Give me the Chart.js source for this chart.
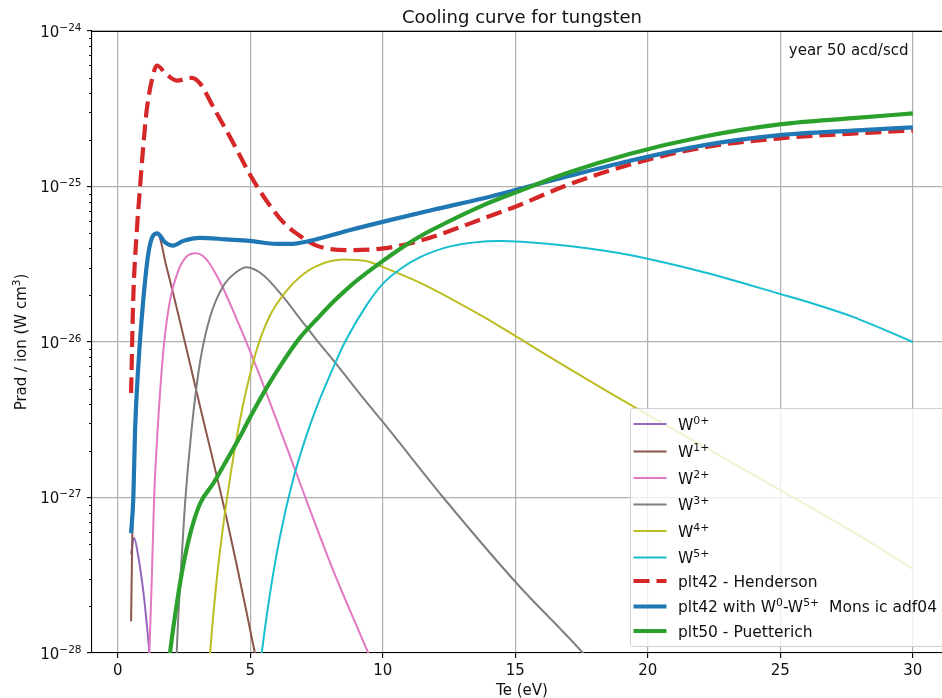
<!DOCTYPE html>
<html>
<head>
<meta charset="utf-8">
<title>Cooling curve for tungsten</title>
<script src="https://cdn.jsdelivr.net/npm/chart.js@4.4.1/dist/chart.umd.min.js"></script>
<style>
  html, body { margin: 0; padding: 0; background: #fff; overflow: hidden; }
  canvas { display: block; }
</style>
</head>
<body>
<canvas id="cooling" width="942" height="698"></canvas>
<script>
// Te (eV) and radiated power per ion (W cm^3) for each ion stage and the totals
const teW0 = [0.5, 0.61, 0.77, 0.96, 1.09, 1.19, 1.25];
const pW0 = [4.3e-28, 5.5e-28, 4.2e-28, 2.5e-28, 1.55e-28, 1.0e-28, 7e-29];

const teW1 = [0.5, 0.55, 0.65, 0.77, 0.96, 1.15, 1.32, 1.49, 1.84, 2.22, 2.6, 2.97, 3.35, 3.73, 4.1, 4.48, 4.86, 5.17, 5.3];
const pW1 = [1.6e-28, 6.3e-28, 2.5e-27, 6.8e-27, 1.82e-26, 3.6e-26, 4.7e-26, 5.0e-26, 3.02e-26, 1.66e-26, 8.9e-27, 4.79e-27, 2.57e-27, 1.38e-27, 7.41e-28, 3.72e-28, 1.82e-28, 1.0e-28, 7.9e-29];

const teW2 = [1.12, 1.19, 1.28, 1.37, 1.5, 1.72, 1.97, 2.28, 2.6, 2.95, 3.35, 3.85, 4.48, 5.11, 5.61, 6.05, 6.51, 6.88, 7.25, 8.13, 9.45, 9.6];
const pW2 = [4e-29, 1.0e-28, 2.95e-28, 1.0e-27, 2.69e-27, 8.9e-27, 1.86e-26, 2.88e-26, 3.55e-26, 3.72e-26, 3.39e-26, 2.45e-26, 1.41e-26, 7.76e-27, 4.68e-27, 2.95e-27, 1.82e-27, 1.23e-27, 8.32e-28, 3.39e-28, 1.0e-28, 8.7e-29];

const teW3 = [2.15, 2.22, 2.35, 2.53, 2.79, 3.1, 3.48, 3.98, 4.48, 4.86, 5.49, 6.24, 6.88, 7.52, 8.14, 9.4, 10.03, 12.28, 15.04, 17.55, 17.8];
const pW3 = [4.5e-29, 1.0e-28, 2.82e-28, 8.91e-28, 2.82e-27, 7.41e-27, 1.45e-26, 2.29e-26, 2.82e-26, 3.02e-26, 2.69e-26, 1.95e-26, 1.41e-26, 1.02e-26, 7.59e-27, 4.07e-27, 3.02e-27, 1.0e-27, 2.82e-28, 1.0e-28, 8.9e-29];

const teW4 = [3.4, 3.48, 3.73, 4.04, 4.36, 4.61, 4.86, 5.24, 5.74, 6.37, 6.88, 7.52, 8.52, 9.4, 10.03, 11.41, 13.8, 15.17, 16.43, 19.3, 22.08, 24.98, 27.73, 30];
const pW4 = [6.3e-29, 1.0e-28, 2.95e-28, 7.94e-28, 1.82e-27, 3.16e-27, 5.01e-27, 8.91e-27, 1.48e-26, 2.14e-26, 2.63e-26, 3.09e-26, 3.39e-26, 3.31e-26, 3.02e-26, 2.4e-26, 1.45e-26, 1.05e-26, 7.76e-27, 3.98e-27, 2.14e-27, 1.12e-27, 6.03e-28, 3.47e-28];

const teW5 = [5.35, 5.43, 5.74, 6.12, 6.62, 7.12, 7.5, 8.14, 8.57, 9.4, 10.03, 10.66, 11.41, 12.54, 14.43, 16.3, 18.95, 22.08, 24.98, 26.4, 27.74, 30];
const pW5 = [7.6e-29, 1.0e-28, 2.4e-28, 5.62e-28, 1.32e-27, 2.51e-27, 3.8e-27, 6.92e-27, 1.0e-26, 1.74e-26, 2.4e-26, 2.95e-26, 3.51e-26, 4.12e-26, 4.47e-26, 4.27e-26, 3.72e-26, 2.82e-26, 2.04e-26, 1.73e-26, 1.45e-26, 1.0e-26];

const teHenderson = [0.5, 0.58, 0.71, 0.84, 0.96, 1.09, 1.28, 1.47, 1.84, 2.22, 2.79, 3.1, 3.6, 4.36, 4.98, 5.61, 6.3, 6.88, 7.52, 8.77, 10.03, 11.28, 12.54, 13.8, 15.07, 16.95, 19.3, 22.08, 24.98, 27.74, 30];
const pHenderson = [4.7e-27, 1.86e-26, 5.0e-26, 1.0e-25, 1.82e-25, 3.1e-25, 4.8e-25, 6.0e-25, 5.25e-25, 4.8e-25, 5.0e-25, 4.6e-25, 3.25e-25, 1.9e-25, 1.2e-25, 8.1e-26, 5.75e-26, 4.8e-26, 4.15e-26, 3.9e-26, 4.0e-26, 4.42e-26, 5.19e-26, 6.24e-26, 7.5e-26, 1.02e-25, 1.38e-25, 1.78e-25, 2.04e-25, 2.19e-25, 2.29e-25];

const teMons = [0.5, 0.585, 0.65, 0.77, 0.96, 1.15, 1.32, 1.49, 1.78, 2.09, 2.47, 3.1, 4.1, 4.98, 5.99, 6.5, 7.25, 8.77, 10.3, 11.9, 13.8, 15.07, 16.95, 19.3, 22.08, 24.98, 27.74, 30];
const pMons = [5.9e-28, 1.0e-27, 2.7e-27, 6.9e-27, 1.86e-26, 3.7e-26, 4.8e-26, 5.0e-26, 4.37e-26, 4.17e-26, 4.47e-26, 4.68e-26, 4.57e-26, 4.47e-26, 4.27e-26, 4.27e-26, 4.47e-26, 5.25e-26, 6.1e-26, 7.08e-26, 8.41e-26, 9.55e-26, 1.16e-25, 1.46e-25, 1.84e-25, 2.14e-25, 2.29e-25, 2.4e-25];

const tePuetterich = [1.9, 1.97, 2.16, 2.41, 2.72, 3.1, 3.6, 4.11, 4.73, 5.0, 5.63, 6.26, 6.88, 7.52, 8.14, 8.77, 9.4, 10.03, 10.66, 11.41, 11.9, 13.8, 15.07, 16.95, 19.3, 22.08, 24.98, 27.74, 30];
const pPuetterich = [7.6e-29, 1.0e-28, 1.74e-28, 3.24e-28, 5.75e-28, 9.12e-28, 1.23e-27, 1.74e-27, 2.69e-27, 3.31e-27, 5.13e-27, 7.59e-27, 1.07e-26, 1.41e-26, 1.82e-26, 2.29e-26, 2.79e-26, 3.35e-26, 3.98e-26, 4.79e-26, 5.31e-26, 7.59e-26, 9.23e-26, 1.22e-25, 1.62e-25, 2.09e-25, 2.51e-25, 2.75e-25, 2.95e-25];

const seriesLabels = ['W^{0+}', 'W^{1+}', 'W^{2+}', 'W^{3+}', 'W^{4+}', 'W^{5+}',
  'plt42 - Henderson', 'plt42 with W^{0}-W^{5+}  Mons ic adf04', 'plt50 - Puetterich'];

const xTicks = [0, 5, 10, 15, 20, 25, 30];
const xTickLabels = ['0', '5', '10', '15', '20', '25', '30'];
const yTicks = [1e-28, 1e-27, 1e-26, 1e-25, 1e-24];
const yTickLabels = ['10^{\u221228}', '10^{\u221227}', '10^{\u221226}', '10^{\u221225}', '10^{\u221224}'];

const FONT = '"DejaVu Sans", "Liberation Sans", sans-serif';
const INK = '#111';

const pts = (te, p) => te.map((x, i) => ({ x: x, y: p[i] }));

function line(label, te, p, color, width, dash) {
  return {
    label: label,
    data: pts(te, p),
    borderColor: color,
    backgroundColor: color,
    borderWidth: width,
    borderDash: dash || [],
    borderCapStyle: 'butt',
    borderJoinStyle: 'round',
    pointRadius: 0,
    fill: false,
    cubicInterpolationMode: 'monotone',
    clip: 0
  };
}

const datasets = [
  line(seriesLabels[0], teW0, pW0, '#9467bd', 2),
  line(seriesLabels[1], teW1, pW1, '#8c564b', 2),
  line(seriesLabels[2], teW2, pW2, '#e377c2', 2),
  line(seriesLabels[3], teW3, pW3, '#7f7f7f', 2),
  line(seriesLabels[4], teW4, pW4, '#bcbd22', 2),
  line(seriesLabels[5], teW5, pW5, '#17becf', 2),
  line(seriesLabels[6], teHenderson, pHenderson, '#d62728', 4.2, [16, 7]),
  line(seriesLabels[7], teMons, pMons, '#1f77b4', 4.2),
  line(seriesLabels[8], tePuetterich, pPuetterich, '#2ca02c', 4.2)
];
// later series sit on top
datasets.forEach((d, i) => { d.order = datasets.length - i; });

// split "a^{b}c" into normal and superscript runs
function richParts(str) {
  const parts = [];
  const re = /\^\{([^}]*)\}/g;
  let last = 0, m;
  while ((m = re.exec(str)) !== null) {
    if (m.index > last) parts.push({ t: str.slice(last, m.index), sup: false });
    parts.push({ t: m[1], sup: true });
    last = re.lastIndex;
  }
  if (last < str.length) parts.push({ t: str.slice(last), sup: false });
  return parts;
}

function drawRich(ctx, str, x, y, size, align) {
  const parts = richParts(str);
  const supSize = size * 0.7;
  const widths = parts.map(p => {
    ctx.font = (p.sup ? supSize : size) + 'px ' + FONT;
    return ctx.measureText(p.t).width;
  });
  const total = widths.reduce((a, b) => a + b, 0);
  let cx = x;
  if (align === 'right') cx = x - total;
  else if (align === 'center') cx = x - total / 2;
  ctx.textAlign = 'left';
  ctx.textBaseline = 'alphabetic';
  parts.forEach((p, i) => {
    ctx.font = (p.sup ? supSize : size) + 'px ' + FONT;
    ctx.fillText(p.t, cx, p.sup ? y - size * 0.37 : y);
    cx += widths[i];
  });
}

const decorations = {
  id: 'decorations',
  afterDraw(chart) {
    const ctx = chart.ctx;
    const area = chart.chartArea;
    const xs = chart.scales.x;
    const ys = chart.scales.y;
    ctx.save();
    ctx.fillStyle = INK;
    ctx.strokeStyle = '#000';

    // top spine
    ctx.lineWidth = 1.1;
    ctx.beginPath();
    ctx.moveTo(area.left, area.top + 0.5);
    ctx.lineTo(area.right, area.top + 0.5);
    ctx.stroke();

    // minor log ticks
    ctx.lineWidth = 0.9;
    for (let e = -28; e < -24; e++) {
      for (let k = 2; k <= 9; k++) {
        const py = Math.round(ys.getPixelForValue(k * Math.pow(10, e))) + 0.5;
        ctx.beginPath();
        ctx.moveTo(area.left - 3, py);
        ctx.lineTo(area.left, py);
        ctx.stroke();
      }
    }

    // tick labels
    yTicks.forEach((v, i) => {
      drawRich(ctx, yTickLabels[i], area.left - 10.5, ys.getPixelForValue(v) + 5.5, 15, 'right');
    });
    xTicks.forEach((v, i) => {
      drawRich(ctx, xTickLabels[i], xs.getPixelForValue(v), area.bottom + 21.5, 15, 'center');
    });

    // axis titles
    const axesMid = 522;
    drawRich(ctx, 'Te (eV)', axesMid, 695, 15, 'center');
    ctx.save();
    ctx.translate(25.5, (area.top + area.bottom) / 2);
    ctx.rotate(-Math.PI / 2);
    drawRich(ctx, 'Prad / ion (W cm^{3})', 0, 0, 15, 'center');
    ctx.restore();

    drawRich(ctx, 'Cooling curve for tungsten', axesMid, 22.5, 18, 'center');
    drawRich(ctx, 'year 50 acd/scd', 908.5, 54.5, 15, 'right');

    // legend
    const box = { x: 630, y: 408, w: 330, h: 238 };
    ctx.beginPath();
    ctx.roundRect(box.x + 0.5, box.y + 0.5, box.w, box.h, 3);
    ctx.fillStyle = 'rgba(255,255,255,0.8)';
    ctx.fill();
    ctx.strokeStyle = '#d0d0d0';
    ctx.lineWidth = 1;
    ctx.stroke();

    const rowY = [424, 451.5, 478, 504.5, 531, 557.5, 581, 606.5, 631];
    chart.data.datasets.forEach((d, i) => {
      const y = rowY[i];
      ctx.strokeStyle = d.borderColor;
      ctx.lineWidth = d.borderWidth;
      ctx.setLineDash(d.borderDash);
      ctx.lineCap = 'butt';
      ctx.beginPath();
      ctx.moveTo(633.5, y);
      ctx.lineTo(666.5, y);
      ctx.stroke();
      ctx.setLineDash([]);
      ctx.fillStyle = INK;
      drawRich(ctx, d.label, 678, y + 5.5, 15.5, 'left');
    });
    ctx.restore();
  }
};

new Chart(document.getElementById('cooling'), {
  type: 'line',
  data: { datasets: datasets },
  options: {
    responsive: false,
    animation: false,
    events: [],
    layout: { padding: { left: 72, top: 31, right: 0, bottom: 0 } },
    plugins: {
      legend: { display: false },
      title: { display: false },
      tooltip: { enabled: false }
    },
    scales: {
      x: {
        type: 'linear',
        bounds: 'data',
        min: -0.975,
        max: 31.1,
        afterBuildTicks: s => { s.ticks = xTicks.map(v => ({ value: v })); },
        afterFit: s => { s.height = 45; },
        ticks: { display: false },
        grid: { color: '#b0b0b0', lineWidth: 1.2, drawTicks: true, tickLength: 5, tickColor: '#000', tickWidth: 1.1 },
        border: { display: true, color: '#000', width: 1.1 }
      },
      y: {
        type: 'logarithmic',
        min: 1e-28,
        max: 1e-24,
        afterBuildTicks: s => { s.ticks = yTicks.map(v => ({ value: v })); },
        afterFit: s => { s.width = 20; },
        ticks: { display: false },
        grid: { color: '#b0b0b0', lineWidth: 1.2, drawTicks: true, tickLength: 5, tickColor: '#000', tickWidth: 1.1 },
        border: { display: true, color: '#000', width: 1.1 }
      }
    }
  },
  plugins: [decorations]
});
</script>
</body>
</html>
